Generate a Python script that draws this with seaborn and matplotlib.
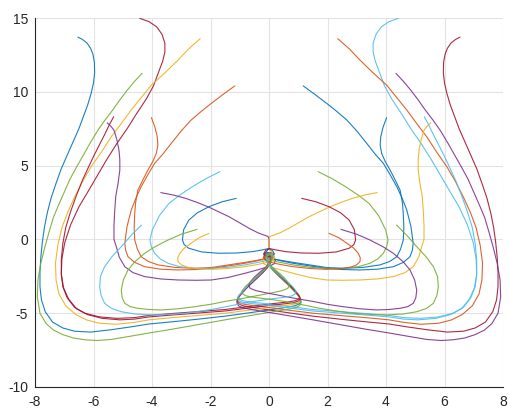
import numpy as np
import pandas as pd
import matplotlib
matplotlib.use("Agg")
import matplotlib.pyplot as plt
import seaborn as sns

# Trajectories on the right half (x >= 0); the left half is their mirror image.
r01_x = [6.53, 6.38, 6.22, 6.10, 6.02, 5.97, 5.96, 6.00, 6.08, 6.20, 6.35, 6.50, 6.70, 6.90, 7.10, 7.28, 7.45, 7.58, 7.68, 7.75, 7.80, 7.83, 7.83, 7.78, 7.65, 7.40, 7.05, 6.65, 6.10, 5.40, 4.70, 4.10, 3.30, 2.50, 1.50, 0.70, 0.00, -0.60, -0.88, -1.03, -1.09, -1.06, -0.95, -0.78, -0.58, -0.38, -0.20, -0.06, 0.04, 0.10, 0.08, -0.03, -0.12]
r01_y = [13.70, 13.55, 13.30, 12.95, 12.55, 12.00, 11.30, 10.60, 9.90, 9.10, 8.30, 7.50, 6.60, 5.70, 4.80, 3.80, 2.80, 1.80, 0.80, -0.20, -1.20, -2.20, -3.20, -4.10, -4.90, -5.60, -6.00, -6.22, -6.28, -6.12, -5.92, -5.73, -5.58, -5.42, -5.20, -4.98, -4.78, -4.60, -4.50, -4.38, -4.20, -3.98, -3.68, -3.32, -2.94, -2.57, -2.22, -1.92, -1.62, -1.32, -1.08, -0.97, -1.10]

r02_x = [4.42, 4.10, 3.84, 3.66, 3.56, 3.56, 3.63, 3.78, 3.95, 4.20, 4.52, 4.85, 5.20, 5.55, 5.89, 6.20, 6.50, 6.78, 6.98, 7.08, 7.10, 7.05, 6.90, 6.65, 6.30, 5.80, 5.20, 4.60, 4.10, 3.30, 2.50, 1.50, 0.70, 0.00, -0.60, -0.86, -1.00, -1.05, -1.00, -0.88, -0.72, -0.52, -0.32, -0.15, -0.02, 0.08, 0.10, 0.01, -0.10]
r02_y = [14.98, 14.75, 14.40, 13.90, 13.30, 12.70, 12.10, 11.30, 10.40, 9.50, 8.54, 7.50, 6.50, 5.40, 4.25, 3.20, 2.20, 1.00, -0.20, -1.30, -2.30, -3.20, -3.95, -4.60, -5.00, -5.25, -5.35, -5.30, -5.15, -5.02, -4.90, -4.75, -4.55, -4.38, -4.25, -4.17, -4.07, -3.92, -3.72, -3.45, -3.10, -2.70, -2.33, -2.00, -1.70, -1.40, -1.14, -0.98, -1.10]

r03_x = [2.35, 2.75, 3.11, 3.55, 4.02, 4.37, 4.71, 5.05, 5.39, 5.72, 6.08, 6.38, 6.64, 6.87, 7.08, 7.22, 7.30, 7.28, 7.18, 6.95, 6.60, 6.23, 5.80, 5.20, 4.60, 4.10, 3.30, 2.50, 1.50, 0.70, 0.00, -0.60, -0.88, -1.03, -1.08, -1.05, -0.92, -0.75, -0.55, -0.35, -0.17, -0.04, 0.06, 0.10, 0.05, -0.08]
r03_y = [13.60, 12.90, 12.15, 11.30, 10.46, 9.60, 8.77, 7.85, 6.96, 5.95, 4.93, 3.90, 2.89, 1.90, 0.80, -0.40, -1.60, -2.75, -3.70, -4.50, -5.10, -5.46, -5.68, -5.75, -5.62, -5.45, -5.30, -5.17, -5.00, -4.80, -4.62, -4.47, -4.38, -4.26, -4.08, -3.86, -3.60, -3.25, -2.86, -2.48, -2.13, -1.82, -1.52, -1.24, -1.02, -1.06]

r04_x = [4.34, 4.60, 4.85, 5.10, 5.33, 5.60, 5.85, 6.12, 6.35, 6.58, 6.80, 7.00, 7.20, 7.37, 7.52, 7.66, 7.80, 7.90, 7.92, 7.83, 7.62, 7.37, 7.05, 6.69, 6.30, 5.89, 5.40, 4.80, 4.10, 3.30, 2.50, 1.50, 0.70, 0.00, -0.60, -0.88, -1.04, -1.10, -1.08, -0.97, -0.80, -0.60, -0.40, -0.21, -0.07, 0.04, 0.10, 0.08, -0.03, -0.12]
r04_y = [11.25, 10.70, 10.10, 9.45, 8.80, 8.10, 7.40, 6.51, 5.70, 4.90, 4.10, 3.20, 2.30, 1.50, 0.50, -0.50, -1.60, -2.75, -3.90, -5.00, -5.70, -6.14, -6.45, -6.68, -6.80, -6.85, -6.78, -6.58, -6.34, -6.08, -5.80, -5.45, -5.18, -4.95, -4.75, -4.64, -4.50, -4.30, -4.05, -3.75, -3.38, -2.98, -2.60, -2.25, -1.94, -1.63, -1.33, -1.08, -0.97, -1.10]

r05_x = [1.17, 1.55, 1.97, 2.30, 2.66, 3.00, 3.34, 3.62, 3.91, 4.15, 4.37, 4.55, 4.71, 4.85, 4.93, 4.90, 4.82, 4.60, 4.25, 3.70, 3.11, 2.50, 1.97, 1.40, 0.83, 0.40, 0.10, -0.12, -0.18, -0.05, 0.10]
r05_y = [10.40, 9.85, 9.22, 8.70, 8.09, 7.35, 6.51, 5.80, 5.15, 4.35, 3.57, 2.80, 1.99, 0.90, -0.26, -0.75, -1.17, -1.55, -1.85, -2.02, -2.07, -2.04, -1.96, -1.80, -1.62, -1.45, -1.30, -1.15, -0.98, -0.88, -1.00]

r06_x = [4.02, 3.90, 3.82, 3.80, 3.85, 3.98, 4.14, 4.32, 4.48, 4.56, 4.59, 4.61, 4.59, 4.50, 4.37, 4.12, 3.79, 3.20, 2.54, 1.95, 1.40, 0.90, 0.50, 0.15, -0.10, -0.16, -0.05, 0.08]
r06_y = [8.25, 7.60, 6.96, 6.40, 5.83, 5.25, 4.70, 4.00, 3.35, 2.50, 1.77, 0.80, -0.04, -0.65, -1.17, -1.50, -1.73, -1.90, -1.96, -1.90, -1.73, -1.58, -1.45, -1.32, -1.18, -1.02, -0.92, -1.02]

r07_x = [5.31, 5.45, 5.62, 5.80, 5.98, 6.17, 6.38, 6.58, 6.78, 6.95, 7.05, 7.10, 7.10, 7.02, 6.85, 6.58, 6.20, 5.70, 5.10, 4.60, 4.10, 3.30, 2.50, 1.50, 0.70, 0.00, -0.60, -0.87, -1.02, -1.07, -1.02, -0.90, -0.73, -0.53, -0.33, -0.16, -0.03, 0.07, 0.09, 0.00, -0.11]
r07_y = [8.31, 7.80, 7.10, 6.40, 5.70, 4.90, 4.00, 3.00, 1.90, 0.80, -0.30, -1.40, -2.40, -3.30, -4.05, -4.70, -5.10, -5.35, -5.45, -5.40, -5.25, -5.12, -5.00, -4.85, -4.65, -4.48, -4.35, -4.27, -4.16, -4.00, -3.80, -3.52, -3.16, -2.77, -2.40, -2.06, -1.76, -1.46, -1.18, -1.00, -1.12]

r08_x = [5.53, 5.40, 5.30, 5.20, 5.13, 5.10, 5.10, 5.16, 5.24, 5.28, 5.30, 5.30, 5.22, 5.12, 4.93, 4.65, 4.25, 3.70, 3.11, 2.50, 1.97, 1.40, 0.83, 0.40, 0.03, -0.18, -0.22, -0.10, 0.06]
r08_y = [7.90, 7.65, 7.40, 6.75, 6.05, 5.40, 4.70, 3.80, 2.90, 1.77, 0.90, 0.00, -0.49, -1.20, -1.85, -2.25, -2.52, -2.68, -2.75, -2.77, -2.75, -2.58, -2.30, -2.07, -1.85, -1.65, -1.42, -1.25, -1.22]

r09_x = [1.68, 2.15, 2.62, 3.05, 3.42, 3.75, 3.99, 4.07, 4.02, 3.91, 3.72, 3.45, 3.05, 2.54, 1.97, 1.40, 0.80, 0.26, -0.08, -0.18, -0.08, 0.10]
r09_y = [4.59, 4.12, 3.57, 3.00, 2.44, 1.60, 0.64, -0.04, -0.50, -0.94, -1.32, -1.62, -1.85, -1.96, -1.96, -1.89, -1.72, -1.51, -1.35, -1.15, -0.98, -1.02]

r10_x = [3.70, 3.25, 2.85, 2.45, 2.05, 1.70, 1.37, 1.00, 0.68, 0.38, 0.15, 0.03, 0.00, 0.00, 0.00, 0.08, 0.16, 0.17, 0.08, -0.05, -0.12]
r10_y = [3.17, 3.00, 2.78, 2.50, 2.18, 1.85, 1.54, 1.12, 0.75, 0.45, 0.28, 0.20, 0.00, -0.30, -0.60, -0.80, -1.00, -1.25, -1.45, -1.40, -1.20]

r11_x = [1.12, 1.60, 2.05, 2.45, 2.74, 2.92, 2.96, 2.90, 2.74, 2.30, 1.71, 1.10, 0.57, 0.20, 0.02, -0.12, -0.18, -0.08, 0.08]
r11_y = [2.78, 2.55, 2.22, 1.80, 1.31, 0.65, -0.04, -0.35, -0.60, -0.85, -0.94, -0.92, -0.83, -0.70, -0.62, -0.75, -0.98, -1.20, -1.15]

r12_x = [2.05, 2.40, 2.66, 2.90, 3.05, 3.12, 3.11, 2.98, 2.77, 2.40, 1.97, 1.40, 0.83, 0.45, 0.15, -0.10, -0.20, -0.10, 0.07]
r12_y = [0.41, 0.10, -0.26, -0.60, -0.94, -1.25, -1.51, -1.75, -1.89, -1.99, -2.03, -1.97, -1.85, -1.72, -1.60, -1.45, -1.25, -1.05, -1.10]

r13_x = [2.46, 3.00, 3.45, 3.90, 4.25, 4.58, 4.82, 4.98, 5.05, 5.02, 4.93, 4.75, 4.48, 4.10, 3.68, 3.10, 2.54, 2.00, 1.50, 0.90, 0.38, -0.10, -0.45, -0.64, -0.70, -0.64, -0.50, -0.30, -0.12, 0.00, 0.08, 0.06, -0.04, -0.12]
r13_y = [0.68, 0.35, -0.04, -0.50, -0.94, -1.50, -2.07, -2.75, -3.43, -3.95, -4.33, -4.55, -4.67, -4.75, -4.78, -4.70, -4.56, -4.40, -4.20, -4.00, -3.80, -3.62, -3.47, -3.32, -3.12, -2.88, -2.55, -2.20, -1.90, -1.62, -1.32, -1.08, -0.98, -1.12]

r14_x = [4.36, 4.70, 5.05, 5.38, 5.62, 5.76, 5.79, 5.74, 5.62, 5.38, 5.05, 4.60, 4.02, 3.45, 2.88, 2.30, 1.74, 1.20, 0.60, 0.00, -0.50, -0.78, -0.91, -0.92, -0.80, -0.60, -0.38, -0.18, -0.04, 0.06, 0.10, 0.04, -0.08, -0.11]
r14_y = [0.97, 0.30, -0.49, -1.20, -1.85, -2.50, -3.20, -3.80, -4.33, -4.68, -4.90, -5.05, -5.12, -5.08, -5.01, -4.85, -4.67, -4.45, -4.22, -4.05, -3.93, -3.83, -3.68, -3.48, -3.18, -2.82, -2.45, -2.10, -1.80, -1.50, -1.22, -1.00, -1.02, -1.22]

right_paths = [
    (r01_x, r01_y), (r02_x, r02_y), (r03_x, r03_y), (r04_x, r04_y),
    (r05_x, r05_y), (r06_x, r06_y), (r07_x, r07_y), (r08_x, r08_y),
    (r09_x, r09_y), (r10_x, r10_y), (r11_x, r11_y), (r12_x, r12_y),
    (r13_x, r13_y), (r14_x, r14_y),
]

# MATLAB default line colours
BLUE, ORANGE, YELLOW, PURPLE = "#0072BD", "#D95319", "#EDB120", "#7E2F8E"
GREEN, CYAN, RED = "#77AC30", "#4DBEEE", "#A2142F"

right_colors = [RED, CYAN, ORANGE, PURPLE, BLUE, BLUE, CYAN,
                YELLOW, GREEN, YELLOW, RED, ORANGE, PURPLE, GREEN]
left_colors = [BLUE, RED, YELLOW, GREEN, ORANGE, ORANGE, RED,
               PURPLE, CYAN, PURPLE, BLUE, YELLOW, GREEN, CYAN]

x_ticks = [-8, -6, -4, -2, 0, 2, 4, 6, 8]
y_ticks = [-10, -5, 0, 5, 10, 15]

# Long-form table: one group per trajectory, points kept in drawing order
rows = []
palette = {}
for i, (px, py) in enumerate(right_paths):
    for side, sign, colors in (("L", -1.0, left_colors), ("R", 1.0, right_colors)):
        name = f"{side}{i + 1:02d}"
        palette[name] = colors[i]
        for k, (xv, yv) in enumerate(zip(px, py)):
            rows.append({"curve": name, "step": k, "x": sign * xv, "y": yv})
df = pd.DataFrame(rows)

sns.set_theme(style="white")
plt.rcParams["font.family"] = ["Liberation Sans", "DejaVu Sans"]

fig = plt.figure(figsize=(5.09, 4.12), dpi=100)
ax = fig.add_axes([35 / 509, 25 / 412, 468 / 509, 369 / 412])

sns.lineplot(data=df, x="x", y="y", hue="curve", palette=palette,
             sort=False, estimator=None, legend=False, linewidth=0.8,
             alpha=0.9, ax=ax)

ax.set_xlim(-8, 8)
ax.set_ylim(-10, 15)
ax.set_xticks(x_ticks)
ax.set_yticks(y_ticks)
ax.set_xticklabels([str(v) for v in x_ticks])
ax.set_yticklabels([str(v) for v in y_ticks])
ax.set_xlabel("")
ax.set_ylabel("")
ax.grid(True, color="#e3e3e3", linewidth=0.8)
ax.set_axisbelow(True)
for s in ("top", "right"):
    ax.spines[s].set_visible(False)
for s in ("left", "bottom"):
    ax.spines[s].set_color("#262626")
    ax.spines[s].set_linewidth(0.8)
ax.tick_params(axis="both", direction="in", length=4, width=0.8,
               color="#262626", labelcolor="#262626", labelsize=10)
ax.tick_params(axis="x", pad=6)
ax.tick_params(axis="y", pad=5)

fig.savefig("out.png", dpi=100, facecolor="white")
